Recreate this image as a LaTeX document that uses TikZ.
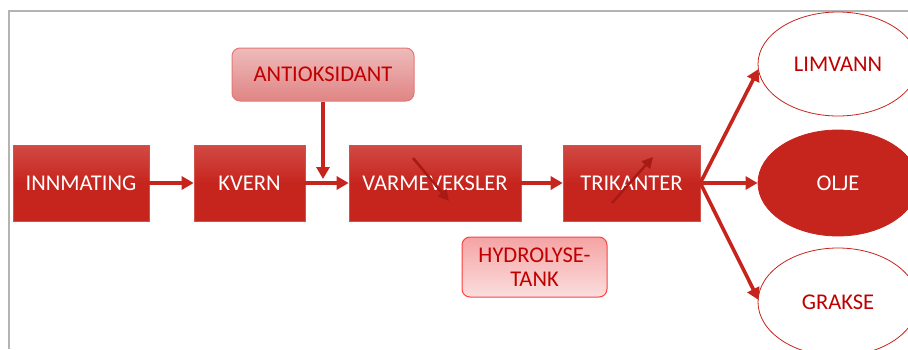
\documentclass[tikz,border=0pt]{standalone}
\usepackage{fontspec}
\setmainfont{Carlito}
\usetikzlibrary{arrows.meta,shapes.geometric}
\definecolor{mred}{HTML}{C6251E}
\definecolor{mredtop}{HTML}{D24A44}
\definecolor{dred}{HTML}{C00000}
\definecolor{innerred}{HTML}{A81A16}
\definecolor{frame}{HTML}{B4B4B4}
\definecolor{antitop}{HTML}{EEBBBB}
\definecolor{antibot}{HTML}{E08584}
\definecolor{hydtop}{HTML}{F5A3A3}
\definecolor{hydbot}{HTML}{FBDEDE}
\tikzset{
  box/.style={draw=mred!80!white, line width=0.6pt, top color=mredtop, bottom color=mred,
    middle color=mred, minimum height=76pt, text=white, font=\fontsize{22.5}{25}\selectfont, inner sep=0pt},
  pinkbox/.style={draw=#1, line width=1pt, rounded corners=8pt, text=dred,
    font=\fontsize{22.5}{25}\selectfont, inner sep=0pt, align=center},
  oval/.style={ellipse, draw=mred, line width=0.8pt, minimum width=160pt, inner sep=0pt,
    font=\fontsize{22.5}{25}\selectfont},
  flow/.style={draw=mred, line width=3.6pt, -{Triangle[length=12pt,width=13pt]}},
  inner/.style={draw=innerred, line width=2.6pt, -{Triangle[length=11pt,width=11pt]}}
}
\begin{document}
\begin{tikzpicture}[x=1pt,y=-1pt]
\useasboundingbox (0,0) rectangle (908,349);
\clip (0,0) rectangle (908,349);
\draw[frame, line width=1.5pt] (9,349) -- (9,11) -- (908,11);

\node[box, minimum width=136pt] (inn) at (81,183) {INNMATING};
\node[box, minimum width=111pt] (kvern) at (249.5,183) {KVERN};
\node[box, minimum width=172pt] (varme) at (435,183) {VARMEVEKSLER};
\node[box, minimum width=137pt] (trik) at (631.5,183) {TRIKANTER};

\node[pinkbox=antibot!90!red, top color=antitop, bottom color=antibot,
  minimum width=182pt, minimum height=53pt] (anti) at (323,74.5) {ANTIOKSIDANT};
\node[pinkbox=red!75!white, top color=hydtop, bottom color=hydbot,
  minimum width=145pt, minimum height=60pt] (hydro) at (534.5,267) {HYDROLYSE-\\[-1pt]TANK};

\node[oval, minimum height=104pt, fill=white, text=dred] (limvann) at (838,64) {LIMVANN};
\node[oval, minimum height=106pt, fill=mred, text=white] (olje) at (838,183) {OLJE};
\node[oval, minimum height=108pt, fill=white, text=dred] (grakse) at (838,302) {GRAKSE};

\coordinate (join) at (323,179);
\coordinate (va) at (413,158);
\coordinate (vb) at (449,201);
\coordinate (ta) at (612,203);
\coordinate (tb) at (653,157);

\draw[flow] (inn.east) -- (kvern.west);
\draw[flow] (kvern.east) -- (varme.west);
\draw[flow] (anti.south) -- (join);
\draw[flow] (varme.east) -- (trik.west);
\draw[flow] (trik.east) -- ([shift={(1,5)}]limvann.west);
\draw[flow] (trik.east) -- (olje.west);
\draw[flow] (trik.east) -- ([shift={(1,-2)}]grakse.west);

\draw[inner] (va) -- (vb);
\draw[inner] (ta) -- (tb);
\end{tikzpicture}
\end{document}
